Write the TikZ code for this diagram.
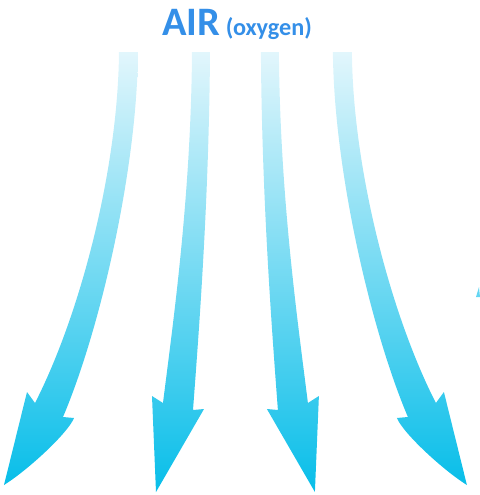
\documentclass[tikz,border=0pt]{standalone}
\usepackage{fontspec}
\setmainfont{Carlito}

\definecolor{airblue}{RGB}{52,143,232}
\definecolor{flowtop}{RGB}{226,246,252}
\definecolor{flowmid}{RGB}{100,214,243}
\definecolor{flowbot}{RGB}{8,190,233}

\begin{document}
\begin{tikzpicture}[x=0.02cm, y=-0.02cm,
    airflow/.style={top color=flowtop, middle color=flowmid, bottom color=flowbot}]
    \useasboundingbox (0,0) rectangle (480,495);

    % title
    \node[anchor=base west, inner sep=0pt, text=airblue, font=\bfseries] (title) at (162,35)
        {\fontsize{23}{25}\selectfont AIR\fontsize{13.8}{16}\selectfont{} (oxygen)};

    % left half: outer and inner arrow
    \shade[airflow] (119,52) -- (138,52) .. controls (137,170) and (100,330) .. (63,417)
        -- (74,418) .. controls (68,433) and (28,470) .. (4,485) -- (27,392) -- (35,403)
        .. controls (80,315) and (118,170) .. (119,52) -- cycle;
    \shade[airflow] (192,52) -- (210,52) .. controls (209,200) and (199,330) .. (193,410)
        -- (204,409) -- (156,492) -- (152,396) -- (163,403)
        .. controls (172,330) and (191,200) .. (192,52) -- cycle;

    % right half, mirrored
    \begin{scope}[xshift=9.42cm, xscale=-1]
        \shade[airflow] (119,52) -- (138,52) .. controls (137,170) and (100,330) .. (63,417)
            -- (74,418) .. controls (68,433) and (28,470) .. (4,485) -- (27,392) -- (35,403)
            .. controls (80,315) and (118,170) .. (119,52) -- cycle;
        \shade[airflow] (192,52) -- (210,52) .. controls (209,200) and (199,330) .. (193,410)
            -- (204,409) -- (156,492) -- (152,396) -- (163,403)
            .. controls (172,330) and (191,200) .. (192,52) -- cycle;
    \end{scope}

    \fill[flowmid] (476,297) -- (479,287) -- (480,297) -- cycle;
\end{tikzpicture}
\end{document}
